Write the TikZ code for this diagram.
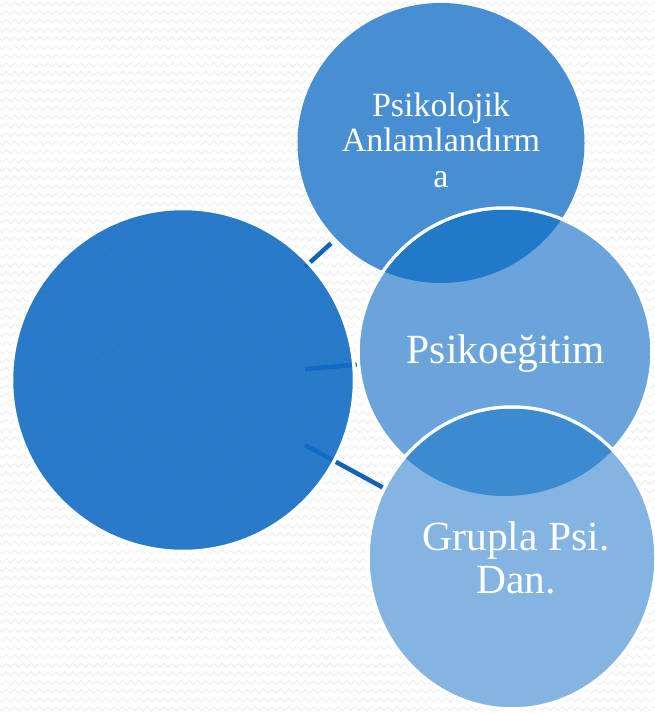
\documentclass[tikz,border=0pt]{standalone}
\usepackage{fontspec}
\setmainfont{Liberation Serif}
\usetikzlibrary{shapes.geometric,decorations.pathmorphing}
\definecolor{bigc}{RGB}{18,108,196}
\definecolor{topc}{RGB}{72,142,211}
\definecolor{midc}{RGB}{106,164,219}
\definecolor{botc}{RGB}{132,180,226}
\definecolor{lensA}{RGB}{35,121,201}
\definecolor{lensB}{RGB}{60,138,208}
\definecolor{linkc}{RGB}{17,98,184}
\definecolor{wavec}{RGB}{241,241,241}
\pgfdeclarelayer{back}
\pgfdeclarelayer{links}
\pgfsetlayers{back,links,main}
\begin{document}
\begin{tikzpicture}[x=1pt,y=-1pt,
  bubble/.style={ellipse, inner sep=0pt, outer sep=0pt},
  ring/.style={draw=white, line width=3.5pt},
  link/.style={draw=linkc, line width=4.5pt},
  lbl/.style={text=white, anchor=base, inner sep=0pt},
  smalltxt/.style={font=\fontsize{34}{36}\selectfont},
  bigtxt/.style={font=\fontsize{41.5}{44}\selectfont},
  bgwave/.style={draw=wavec, line width=1.1pt, decorate,
    decoration={zigzag, segment length=8.3pt, amplitude=2pt}}]
\useasboundingbox (0,0) rectangle (654,714);
\begin{pgfonlayer}{back}
  \fill[white] (0,0) rectangle (654,714);
  \foreach \r in {0,...,81} {
    \draw[bgwave] (-4,4+\r*8.7) -- (660,4+\r*8.7);
  }
\end{pgfonlayer}

% circles
\node[bubble, ring, fill=bigc, fill opacity=0.9, draw opacity=1,
      minimum width=343pt, minimum height=343pt] (big) at (183,380) {};
\node[bubble, fill=topc, minimum width=287pt, minimum height=280pt] (top) at (441,143) {};
\node[bubble, ring, fill=midc, minimum width=294pt, minimum height=288pt] (mid) at (505,352) {};
\begin{scope}
  \clip (top.center) ellipse [x radius=143.5, y radius=140];
  \fill[lensA] (mid.center) ellipse [x radius=145.25, y radius=142.25];
\end{scope}
\node[bubble, ring, fill=botc, minimum width=288pt, minimum height=302pt] (bot) at (512,558) {};
\begin{scope}
  \clip (mid.center) ellipse [x radius=147, y radius=144];
  \fill[lensB] (bot.center) ellipse [x radius=142.25, y radius=149.25];
\end{scope}

% connectors
\coordinate (s1) at (305,267);
\coordinate (s2) at (305,369);
\coordinate (s3) at (305,445);
\begin{pgfonlayer}{links}
  \draw[link, shorten >=7pt] (s1) -- (top);
  \draw[link] (s2) -- (mid);
  \draw[link] (s3) -- (bot);
\end{pgfonlayer}

% labels
\node[lbl, smalltxt] (t1a) at (441,117) {Psikolojik};
\node[lbl, smalltxt] (t1b) at (441,152) {Anlamlandırm};
\node[lbl, smalltxt] (t1c) at (441,187) {a};
\node[lbl, bigtxt] (t2) at (506,363) {Psikoeğitim};
\node[lbl, bigtxt] (t3a) at (516,550) {Grupla Psi.};
\node[lbl, bigtxt] (t3b) at (516,593) {Dan.};
\end{tikzpicture}
\end{document}
